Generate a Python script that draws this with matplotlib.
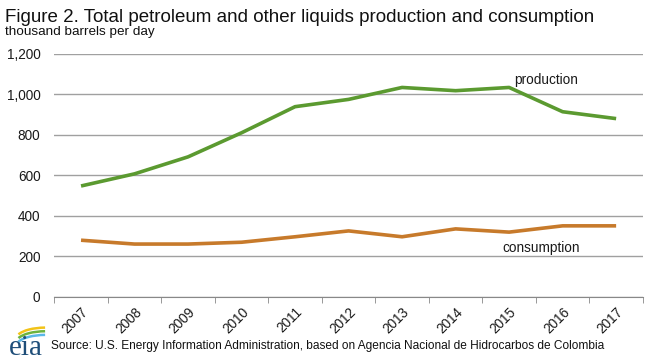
import numpy as np
import matplotlib.pyplot as plt
from matplotlib.patches import Arc

plt.rcParams['font.family'] = ['Liberation Sans', 'DejaVu Sans']

# Data (thousand barrels per day)
years = ['2007', '2008', '2009', '2010', '2011', '2012',
         '2013', '2014', '2015', '2016', '2017']
production = [547, 607, 691, 810, 939, 975, 1034, 1018, 1034, 914, 880]
consumption = [279, 260, 260, 269, 296, 325, 296, 335, 319, 350, 350]

green = '#5b9a30'
orange = '#c77a2b'

fig = plt.figure(figsize=(6.54, 3.64), dpi=100)
ax = fig.add_axes([0.083, 0.185, 0.9, 0.667])

x = np.arange(len(years))
ax.plot(x, production, color=green, linewidth=2.6, solid_capstyle='butt')
ax.plot(x, consumption, color=orange, linewidth=2.6, solid_capstyle='butt')

ax.set_xlim(-0.5, len(years) - 0.5)
ax.set_ylim(0, 1200)
ax.set_yticks(np.arange(0, 1201, 200))
ax.set_yticklabels(['0', '200', '400', '600', '800', '1,000', '1,200'])
ax.yaxis.grid(True, color='#a0a0a0', linewidth=1)
ax.set_axisbelow(True)

# category axis: ticks between categories, labels at centres
ax.set_xticks(x)
ax.set_xticklabels(years, rotation=45, ha='right', rotation_mode='anchor')
ax.set_xticks(np.arange(-0.5, len(years), 1), minor=True)
ax.tick_params(axis='x', which='major', length=0, pad=6)
ax.tick_params(axis='x', which='minor', length=4, color='#888888')
ax.tick_params(axis='y', length=0, pad=10)
ax.tick_params(labelsize=9.8, labelcolor='#1a1a1a')

for side in ['top', 'right', 'left']:
    ax.spines[side].set_visible(False)
ax.spines['bottom'].set_color('#888888')

ax.text(8.1, 1070, 'production', fontsize=9.8, color='#1a1a1a', ha='left', va='center')
ax.text(7.87, 240, 'consumption', fontsize=9.8, color='#1a1a1a', ha='left', va='center')

fig.text(0.008, 0.94, 'Figure 2. Total petroleum and other liquids production and consumption',
         fontsize=13.5, color='#111111', ha='left', va='baseline')
fig.text(0.008, 0.905, 'thousand barrels per day', fontsize=9.7, color='#111111',
         ha='left', va='baseline')
fig.text(0.078, 0.04, 'Source: U.S. Energy Information Administration, based on Agencia Nacional de Hidrocarbos de Colombia',
         fontsize=8.6, color='#111111', ha='left', va='baseline')

# eia logo: serif letters under a rising swoosh
fig.text(0.013, 0.026, 'eia', fontsize=21, family='Liberation Serif', color='#1f4e79',
         ha='left', va='baseline')
for col, dy in [('#f2c318', 0.010), ('#6cb33f', 0.0), ('#5bb8e8', -0.010)]:
    fig.add_artist(Arc((0.070, 0.06 + dy), 0.09, 0.06, theta1=92, theta2=165,
                       transform=fig.transFigure, color=col, linewidth=1.8))

fig.savefig('out.png', dpi=100)
